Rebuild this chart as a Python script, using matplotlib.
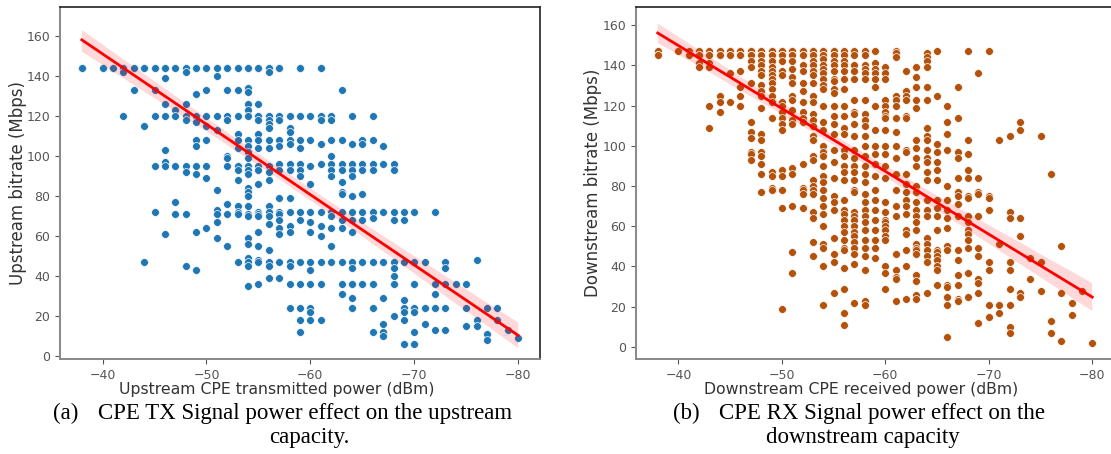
import numpy as np
import pandas as pd
import matplotlib
matplotlib.use('Agg')
import matplotlib.pyplot as plt
import seaborn as sns

# upstream: CPE TX power (dBm) -> bitrate values in that column (Mbps)
# repeated values are points drawn on top of each other
T = [144] * 4
T2 = [144] * 6
up_cols = {
    -38: T,
    -40: T,
    -41: T,
    -42: T + [142, 120],
    -43: T + [133],
    -44: T2 + [115, 47],
    -45: T2 + [133, 120, 95, 72],
    -46: T2 + [139, 126, 120, 103, 97, 95, 61],
    -47: T2 + [123, 120, 95, 77, 71],
    -48: T2 + [142, 126, 120, 118, 95, 92, 71, 45],
    -49: T2 + [131, 120, 117, 108, 105, 95, 91, 62, 43],
    -50: T2 + [133, 120, 115, 108, 95, 89, 64],
    -51: T2 + [140, 120, 113, 83, 73, 71, 67, 59],
    -52: T2 + [133, 120, 118, 100, 99, 95, 76, 71, 55],
    -53: T2 + [133, 120, 111, 108, 104, 95, 93, 88, 75, 72, 71, 47],
    -54: T2 + [134, 132, 126, 123, 120, 120, 108, 105, 102, 99, 95, 93, 91, 84, 82, 80,
               75, 71, 70, 59, 56, 49, 47, 45, 35],
    -55: T2 + [126, 120, 120, 118, 111, 108, 104, 95, 93, 86, 72, 71, 70, 62, 55, 48, 47, 36],
    -56: T2 + [142, 120, 120, 118, 116, 114, 108, 104, 95, 92, 88, 75, 72, 70, 66, 53, 47, 45, 39],
    -57: T2 + [120, 120, 118, 108, 105, 96, 93, 79, 72, 71, 68, 64, 61, 47, 39],
    -58: [120, 120, 114, 112, 108, 106, 96, 93, 79, 72, 65, 62, 47, 45, 36, 24],
    -59: T + [120, 120, 108, 104, 96, 93, 90, 72, 68, 47, 36, 24, 18, 12],
    -60: [120, 120, 108, 95, 86, 72, 67, 62, 47, 43, 36, 24, 22, 18],
    -61: T + [120, 120, 118, 106, 96, 72, 65, 60, 47, 36, 18],
    -62: [120, 120, 118, 108, 100, 96, 93, 90, 72, 70, 64, 55, 47],
    -63: [133, 108, 96, 93, 87, 82, 81, 72, 68, 64, 47, 36, 31],
    -64: [120, 106, 96, 93, 90, 80, 72, 68, 62, 47, 44, 36, 36, 29, 24, 24],
    -65: [108, 106, 96, 93, 81, 72, 68, 47, 47, 36, 36],
    -66: [120, 108, 96, 93, 72, 69, 47, 47, 36, 36, 24, 24, 12],
    -67: [105, 96, 72, 47, 47, 29, 16, 12, 12, 10],
    -68: [96, 93, 72, 68, 47, 47, 44, 40, 36, 36, 20],
    -69: [72, 68, 47, 28, 24, 24, 22, 18, 6, 6],
    -70: [72, 47, 36, 36, 24, 24, 22, 12, 6, 6],
    -71: [47, 24, 24, 16],
    -72: [72, 36, 31, 24, 24, 13],
    -73: [47, 44, 36, 24, 13],
    -74: [36],
    -75: [36, 24, 15],
    -76: [48, 18, 15],
    -77: [24, 11, 8],
    -78: [24, 18],
    -79: [13],
    -80: [9],
}

# downstream: CPE RX power (dBm) -> bitrate values (Mbps)
D = [147, 147, 147, 145, 145]
D2 = [147, 147, 147, 147, 145, 145, 145]
down_cols = {
    -38: D,
    -40: [147, 147, 147],
    -41: D,
    -42: D + [141, 139],
    -43: D + [141, 139, 120, 109],
    -44: D + [125, 122, 117],
    -45: D + [136, 122],
    -46: D2 + [137, 129, 125, 120],
    -47: D2 + [142, 139, 131, 112, 107, 104, 97, 96, 93],
    -48: D2 + [142, 140, 137, 135, 130, 127, 125, 119, 106, 103, 97, 95, 91, 86, 77],
    -49: D2 + [142, 139, 137, 135, 133, 131, 128, 125, 122, 114, 87, 85, 79, 78],
    -50: D2 + [142, 137, 135, 122, 120, 117, 114, 111, 108, 88, 85, 78, 69, 19],
    -51: D2 + [142, 138, 134, 131, 125, 123, 118, 113, 111, 89, 86, 70, 47, 37],
    -52: D2 + [140, 137, 131, 127, 122, 117, 114, 112, 91, 79, 78, 76, 69],
    -53: D + [142, 140, 137, 135, 131, 125, 122, 116, 113, 110, 105, 103, 95, 93,
              83, 80, 78, 76, 67, 64, 52, 45],
    -54: D + [143, 140, 138, 136, 133, 130, 128, 120, 112, 108, 100, 97, 95, 90,
              85, 82, 78, 74, 70, 66, 60, 51, 49, 40, 21],
    -55: D + [142, 140, 137, 133, 132, 128, 126, 120, 115, 111, 106, 98, 92, 84, 75,
              72, 68, 54, 46, 42, 27],
    -56: [147, 145, 142, 140, 137, 133, 128, 120, 115, 109, 106, 98, 95, 90, 87, 83,
          73, 68, 66, 63, 60, 57, 53, 49, 48, 39, 29, 17, 11],
    -57: [147, 145, 140, 137, 133, 123, 117, 116, 111, 105, 98, 94, 90, 87, 83, 78,
          77, 67, 65, 63, 60, 57, 55, 52, 49, 46, 41, 22],
    -58: [147, 145, 140, 138, 136, 133, 123, 116, 113, 110, 105, 100, 95, 90, 86, 82,
          76, 72, 68, 65, 62, 58, 53, 49, 45, 38, 23, 21],
    -59: [147, 141, 138, 136, 133, 129, 120, 108, 100, 96, 91, 85, 78, 73, 68, 63,
          58, 53, 49, 44],
    -60: [139, 136, 133, 123, 120, 117, 115, 114, 108, 100, 96, 90, 84, 72, 67, 63,
          62, 60, 58, 55, 53, 40, 37, 29],
    -61: [147, 146, 144, 125, 123, 120, 114, 107, 100, 94, 86, 78, 70, 65, 46, 38,
          35, 34, 23],
    -62: [137, 127, 125, 123, 115, 114, 98, 97, 86, 81, 77, 73, 70, 66, 58, 56, 48,
          40, 24],
    -63: [139, 134, 129, 123, 119, 103, 99, 94, 90, 80, 77, 72, 68, 65, 62, 58, 51,
          49, 48, 46, 36, 33, 26, 24],
    -64: [146, 144, 142, 139, 129, 123, 109, 105, 103, 98, 94, 92, 87, 83, 73, 68,
          65, 54, 51, 48, 45, 42, 27],
    -65: [147, 125, 101, 97, 92, 88, 83, 73, 69, 65, 58, 48, 47, 45, 43, 40, 38, 31],
    -66: [120, 112, 106, 98, 80, 73, 68, 64, 59, 50, 48, 31, 30, 25, 25, 21, 5],
    -67: [129, 114, 97, 94, 84, 77, 75, 71, 65, 48, 43, 36, 31, 24, 23, 23],
    -68: [147, 103, 96, 88, 84, 75, 74, 65, 62, 58, 56, 53, 49, 37, 25, 25],
    -69: [136, 84, 77, 76, 65, 49, 45, 34, 32, 27, 12, 12],
    -70: [147, 75, 74, 68, 42, 38, 21, 15, 15],
    -71: [103, 51, 21, 17],
    -72: [105, 67, 64, 42, 38, 29, 21, 10, 7],
    -73: [112, 108, 64, 55, 27, 25],
    -74: [44, 34],
    -75: [105, 42, 28],
    -76: [86, 13, 7],
    -77: [50, 27, 3],
    -78: [22, 16],
    -79: [28],
    -80: [2],
}

up_x = [k for k, v in up_cols.items() for _ in v]
up_y = [y for v in up_cols.values() for y in v]
down_x = [k for k, v in down_cols.items() for _ in v]
down_y = [y for v in down_cols.values() for y in v]

up = pd.DataFrame({'power': up_x, 'bitrate': up_y})
down = pd.DataFrame({'power': down_x, 'bitrate': down_y})

fig = plt.figure(figsize=(11.11, 4.54), dpi=100)
ax1 = fig.add_axes([60 / 1111, 95 / 454, 480 / 1111, 352 / 454])
ax2 = fig.add_axes([636 / 1111, 95 / 454, 478 / 1111, 352 / 454])


def draw(ax, df, color, xlabel, ylabel, ylim, xlab_x, ylab_x):
    sns.scatterplot(data=df, x='power', y='bitrate', ax=ax, color=color,
                    s=32, edgecolor='white', linewidth=0.5)
    sns.regplot(data=df, x='power', y='bitrate', ax=ax, scatter=False,
                color='red', ci=95, seed=3, line_kws={'linewidth': 2})
    ax.set_xlim(-35.9, -82.1)
    ax.set_ylim(*ylim)
    ax.set_xticks([-40, -50, -60, -70, -80])
    ax.set_xlabel(xlabel, fontsize=11.3, color='#333333')
    ax.set_ylabel(ylabel, fontsize=12, color='#333333')
    ax.xaxis.set_label_coords(xlab_x, -0.065)
    ax.yaxis.set_label_coords(ylab_x, 0.5)
    ax.tick_params(labelsize=9, colors='#555555')
    for side in ['left', 'bottom']:
        ax.spines[side].set_color('#888888')
        ax.spines[side].set_linewidth(1.4)
    for side in ['top', 'right']:
        ax.spines[side].set_color('#222222')
        ax.spines[side].set_linewidth(1.2)


draw(ax1, up, '#1f77b4', 'Upstream CPE transmitted power (dBm)',
     'Upstream bitrate (Mbps)', (-1.5, 174.5), 0.452, -0.069)
draw(ax2, down, '#b4520c', 'Downstream CPE received power (dBm)',
     'Downstream bitrate (Mbps)', (-6, 169), 0.47, -0.071)

cap = dict(family='Liberation Serif', fontsize=16.5, color='black', va='baseline')
fig.text(53 / 1111, 1 - 419 / 454, '(a)', ha='left', **cap)
fig.text(305 / 1111, 1 - 419 / 454, 'CPE TX Signal power effect on the upstream', ha='center', **cap)
fig.text(309 / 1111, 1 - 443 / 454, 'capacity.', ha='center', **cap)
fig.text(673 / 1111, 1 - 419 / 454, '(b)', ha='left', **cap)
fig.text(882 / 1111, 1 - 419 / 454, 'CPE RX Signal power effect on the', ha='center', **cap)
fig.text(863 / 1111, 1 - 443 / 454, 'downstream capacity', ha='center', **cap)

fig.savefig('out.png', dpi=100)
